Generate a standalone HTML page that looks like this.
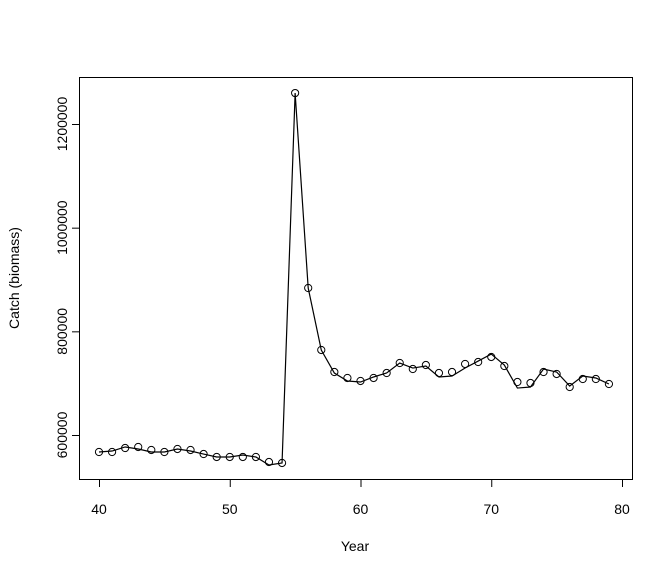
<!DOCTYPE html>
<html><head><meta charset="utf-8"><style>body{margin:0;background:#fff}svg{display:block;font-family:"Liberation Sans",Arial,sans-serif}</style></head>
<body>
<svg id="c" width="672" height="576" viewBox="0 0 672 576"></svg>
<script>
const years=[];for(let y=40;y<=79;y++)years.push(y);
const pointValues=[567200,567200,574900,576900,571100,567200,573000,571100,563300,557600,557600,557600,557600,547900,546000,1259700,883600,764000,721500,710000,704200,710000,719600,738900,727300,735000,719600,721500,737000,740800,750500,733100,702200,700300,721500,717700,692600,708000,708000,698400];
const lineValues=[567200,569100,576900,573000,567200,567200,573000,569100,563300,557600,557600,561400,557600,542100,546000,1259700,883600,764000,719600,704200,702200,711900,719600,738900,729200,733100,711900,713800,729200,742700,756200,735000,690600,692600,727300,721500,694500,713800,710000,698400];
const xTicks=[40,50,60,70,80];
const yTicks=[600000,800000,1000000,1200000];
const NS="http://www.w3.org/2000/svg",svg=document.getElementById('c');
const X=v=>99+(v-40)*(622-99)/40, Y=v=>435-(v-600000)*311/600000;
function el(t,a,p){const e=document.createElementNS(NS,t);for(const k in a)e.setAttribute(k,a[k]);(p||svg).appendChild(e);return e;}
const box=el('rect',{x:79.5,y:77.5,width:553,height:402,fill:'none',stroke:'#000'});

const xa=el('g',{});
el('line',{x1:X(40),x2:X(80),y1:479.5,y2:479.5,stroke:'#000'},xa);
xTicks.forEach(t=>{el('line',{x1:X(t)+.5,x2:X(t)+.5,y1:479.5,y2:487,stroke:'#000'},xa);
const tx=el('text',{x:X(t),y:514,'text-anchor':'middle','font-size':14},xa);tx.textContent=t;
});
const ya=el('g',{});
el('line',{x1:79.5,x2:79.5,y1:Y(600000),y2:Y(1200000),stroke:'#000'},ya);
yTicks.forEach(t=>{el('line',{x1:72,x2:79.5,y1:Y(t)+.5,y2:Y(t)+.5,stroke:'#000'},ya);
const tx=el('text',{x:0,y:0,'text-anchor':'middle','font-size':14,transform:`translate(67,${Y(t)}) rotate(-90)`},ya);tx.textContent=t;
});
const xt=el('text',{x:355,y:551,'text-anchor':'middle','font-size':14});xt.textContent='Year';

const yt=el('text',{x:0,y:0,'text-anchor':'middle','font-size':14,transform:'translate(19,278) rotate(-90)'});yt.textContent='Catch (biomass)';

const ln=el('polyline',{points:years.map((y,i)=>X(y)+','+Y(lineValues[i])).join(' '),fill:'none',stroke:'#000','stroke-width':1.2});

years.forEach((y,i)=>{const c=el('circle',{cx:X(y),cy:Y(pointValues[i]),r:3.6,fill:'none',stroke:'#000','stroke-width':1});
});
</script>
</body></html>
